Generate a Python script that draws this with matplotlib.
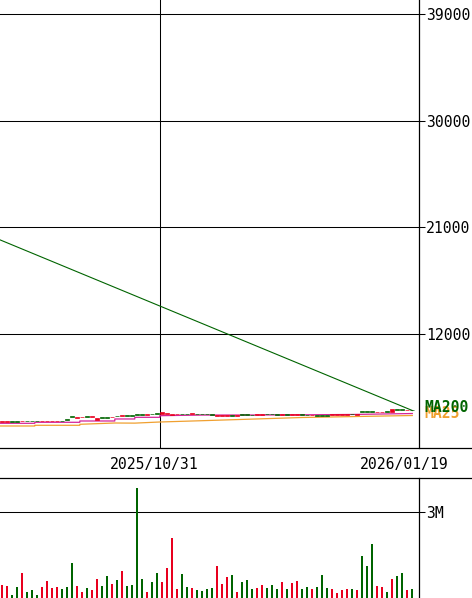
import matplotlib
matplotlib.use("Agg")
import matplotlib.pyplot as plt
from matplotlib.lines import Line2D
import numpy as np

# ---------------- data ----------------
opens = [4600, 4590, 4630, 4620, 4620, 4690, 4680, 4670, 4650, 4640,
         4630, 4640, 4680, 4800, 5040, 4940, 4970, 5060, 5020, 4780,
         4960, 4990, 4960, 5100, 5070, 5140, 5160, 5220, 5250, 5200,
         5280, 5300, 5280, 5230, 5200, 5210, 5290, 5270, 5230, 5280,
         5260, 5250, 5240, 5080, 5100, 5120, 5180, 5120, 5220, 5230,
         5200, 5170, 5180, 5280, 5270, 5240, 5180, 5230, 5160, 5170,
         5220, 5200, 5150, 5170, 5160, 5150, 5150, 5160, 5170, 5180,
         5250, 5190, 5480, 5470, 5500, 5380, 5390, 5470, 5460, 5660,
         5650, 5560, 5620]
closes = [4640, 4630, 4600, 4590, 4700, 4660, 4650, 4650, 4700, 4690,
          4660, 4670, 4650, 4720, 4980, 4990, 5010, 5030, 5080, 4900,
          4920, 4950, 5010, 5060, 5130, 5100, 5120, 5150, 5200, 5250,
          5230, 5240, 5380, 5300, 5290, 5260, 5230, 5220, 5310, 5230,
          5220, 5210, 5200, 5160, 5170, 5190, 5120, 5170, 5170, 5180,
          5160, 5240, 5250, 5230, 5220, 5200, 5240, 5200, 5230, 5240,
          5190, 5160, 5190, 5120, 5100, 5110, 5220, 5230, 5240, 5240,
          5210, 5260, 5390, 5400, 5420, 5440, 5450, 5430, 5640, 5600,
          5590, 5610, 5570]
volumes_m = [0.45, 0.42, 0.10, 0.38, 0.87, 0.21, 0.28, 0.10, 0.38, 0.59,
             0.35, 0.38, 0.31, 0.38, 1.22, 0.42, 0.21, 0.35, 0.28, 0.66,
             0.42, 0.77, 0.49, 0.63, 0.94, 0.42, 0.45, 3.84, 0.66, 0.21,
             0.56, 0.87, 0.56, 1.05, 2.09, 0.31, 0.84, 0.38, 0.35, 0.28,
             0.24, 0.31, 0.35, 1.12, 0.49, 0.73, 0.80, 0.21, 0.56, 0.63,
             0.31, 0.35, 0.45, 0.35, 0.45, 0.31, 0.56, 0.31, 0.52, 0.59,
             0.31, 0.38, 0.31, 0.38, 0.80, 0.35, 0.31, 0.17, 0.28, 0.31,
             0.31, 0.28, 1.47, 1.12, 1.88, 0.42, 0.38, 0.21, 0.66, 0.77,
             0.87, 0.28, 0.31]

# moving-average lines, read as knots (bar index, price)
ma25_idx = [-0.5, 6.5, 6.5, 15.5, 15.5, 22.5, 22.5, 26.5, 26.5, 31.5, 31.5, 40, 55, 70, 82]
ma25_val = [4465, 4465, 4550, 4550, 4660, 4660, 4830, 4830, 4970, 4970, 5107, 5160, 5170, 5210, 5290]
ma75_idx = [-0.5, 6.5, 6.5, 15.5, 15.5, 22.5, 26.5, 31.5, 40, 55, 60, 82]
ma75_val = [4238, 4238, 4297, 4297, 4381, 4490, 4480, 4575, 4685, 4887, 4955, 5123]
ma200_idx = [-0.5, 82]
ma200_val = [19950, 5545]

price_ticks = [12000, 21000, 30000, 39000]
volume_ticks = [3.0]
volume_tick_labels = ["3M"]
date_labels = ["2025/10/31", "2026/01/19"]
date_grid_idx = 31.5

# ---------------- styling ----------------
RED = "#e8001e"
GREEN = "#006400"
MAGENTA = "#d4239a"
ORANGE = "#f0a030"
FONT = "DejaVu Sans Mono"
FS = 10.6

W, H = 472, 598
fig = plt.figure(figsize=(W / 100, H / 100), dpi=100)
fig.patch.set_facecolor("white")


def rect(x0, y0, x1, y1):
    return [x0 / W, 1 - y1 / H, (x1 - x0) / W, (y1 - y0) / H]


ax = fig.add_axes(rect(0, 0, 419, 448))
axv = fig.add_axes(rect(0, 478, 419, 598))

n = len(closes)
x = np.arange(n)
o = np.array(opens, dtype=float)
c = np.array(closes, dtype=float)
up = c >= o
cols = [RED if u else GREEN for u in up]

# price panel
ax.set_xlim(-0.46, 83.34)
ax.set_ylim(2381, 40181)
ax.plot(ma200_idx, ma200_val, color=GREEN, lw=0.8, zorder=3)
ax.plot(ma75_idx, ma75_val, color=ORANGE, lw=0.9, zorder=3)
ax.plot(ma25_idx, ma25_val, color=MAGENTA, lw=0.9, zorder=3)
ax.bar(x, np.abs(c - o), bottom=np.minimum(o, c), width=0.8,
       color=cols, edgecolor=cols, linewidth=0.5, zorder=4)

ax.set_yticks(price_ticks)
ax.set_yticklabels([str(t) for t in price_ticks], fontfamily=FONT, fontsize=FS)
ax.yaxis.tick_right()
ax.tick_params(axis="y", length=4, width=0.75, pad=1, color="black", labelcolor="black")
ax.set_xticks([date_grid_idx])
ax.set_xticklabels([])
ax.tick_params(axis="x", length=0)
ax.grid(True, color="black", lw=0.75)
ax.set_axisbelow(True)
for s in ["left", "top", "bottom"]:
    ax.spines[s].set_visible(False)
ax.spines["right"].set_linewidth(0.9)

# MA labels at the right (overlapping, as in the reference)
fig.text(424 / W, 1 - 413 / H, "MA25", color=ORANGE, fontfamily=FONT, fontsize=FS,
         fontweight="bold", va="center", ha="left")
fig.text(424 / W, 1 - 408 / H, "MA200", color=GREEN, fontfamily=FONT, fontsize=FS,
         fontweight="bold", va="center", ha="left")

# volume panel
axv.set_xlim(-0.46, 83.34)
axv.set_ylim(0, 4.186)
axv.bar(x, volumes_m, width=0.36, color=cols, zorder=3)
axv.set_yticks(volume_ticks)
axv.set_yticklabels(volume_tick_labels, fontfamily=FONT, fontsize=FS)
axv.yaxis.tick_right()
axv.tick_params(axis="y", length=4, width=0.75, pad=1)
axv.set_xticks([])
axv.grid(True, axis="y", color="black", lw=0.75)
axv.set_axisbelow(True)
for s in ["left", "top", "bottom"]:
    axv.spines[s].set_visible(False)
axv.spines["right"].set_linewidth(0.9)

# separator lines spanning full width
for yy in (448, 478):
    fig.add_artist(Line2D([0, 1], [1 - yy / H, 1 - yy / H], color="black", lw=0.9))

# date labels
fig.text(154 / W, 1 - 464 / H, date_labels[0], fontfamily=FONT, fontsize=FS,
         ha="center", va="center")
fig.text(404 / W, 1 - 464 / H, date_labels[1], fontfamily=FONT, fontsize=FS,
         ha="center", va="center")

fig.savefig("out.png", dpi=100, facecolor="white")
